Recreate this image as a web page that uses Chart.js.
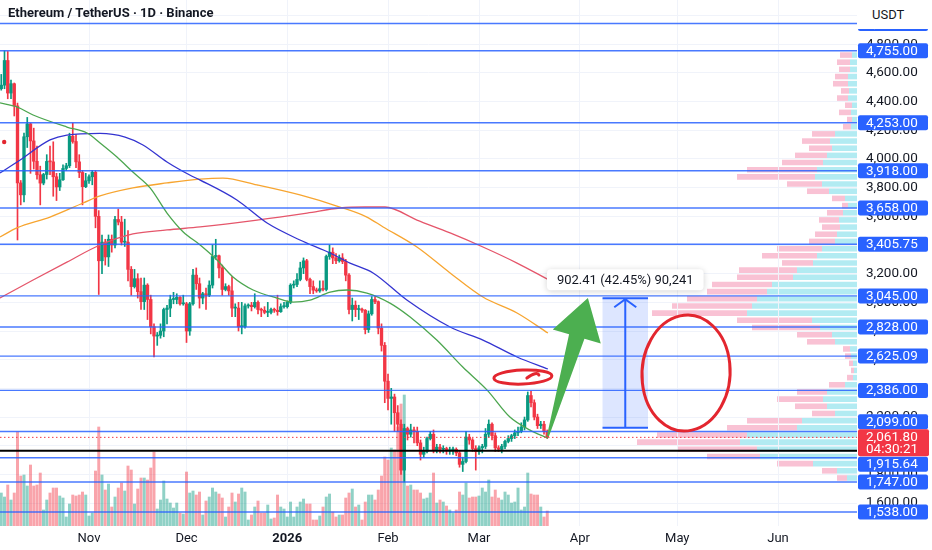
<!DOCTYPE html>
<html>
<head>
<meta charset="utf-8">
<script src="https://cdn.jsdelivr.net/npm/chart.js@4.4.1/dist/chart.umd.min.js"></script>
<style>
  html, body { margin: 0; padding: 0; background: #ffffff; }
  #wrap { position: relative; width: 932px; height: 550px; overflow: hidden; }
  #profileBox { position: absolute; z-index: 0; }
  #main { position: absolute; left: 0; top: 0; z-index: 1; }
  #title { position: absolute; left: 8px; top: 5px; z-index: 2; font: bold 13px Roboto, sans-serif; color: #131722; }
  #unit { position: absolute; left: 858px; top: 0; width: 74px; height: 29px; z-index: 2; background: #fff;
          font: 13px Roboto, sans-serif; color: #131722; line-height: 30px; padding-left: 14px; box-sizing: border-box; }
</style>
</head>
<body>
<div id="wrap">
  <div id="profileBox"><canvas id="profile"></canvas></div>
  <canvas id="main" width="932" height="550"></canvas>
  <div id="title">Ethereum / TetherUS · 1D · Binance</div>
  <div id="unit">USDT</div>
</div>
<script>
// ---------- data (daily candles, ETH/USDT) ----------
const firstCandle = '2025-10-05';

const opens = [
  4490,4515,4687,4460,4525,4370,3833,3750,4155,4245,4126,3984,3890,3832,3892,3983,3980,3876,3805,3855,3934,3953,4158,4122,3980,3906,3807,
  3848,3876,3907,3600,3290,3420,3317,3440,3400,3578,3560,3420,3420,3230,3110,3165,3075,3005,3120,3020,2830,2765,2770,2800,2950,2960,3020,3020,3035,2990,
  2990,2800,2990,3190,3130,3030,3060,3050,3120,3320,3325,3240,3090,3110,3080,2960,2960,2830,2830,2975,2980,2970,3000,2950,2945,2930,2930,2950,2945,2935,2970,
  2970,3000,3120,3125,3160,3240,3290,3160,3110,3085,3080,3095,3090,3320,3350,3310,3290,3310,3285,3190,2950,2980,2950,2950,2945,2810,2920,3020,3005,2820,2700,
  2450,2330,2340,2230,2150,1830,2120,2080,2110,2100,2020,1940,1960,2050,2080,1970,1990,1975,1980,1965,1970,1975,1950,1870,1890,2060,2040,1980,
  1960,1985,1995,2080,2150,2070,1985,1975,1995,2030,2050,2070,2090,2100,2130,2180,2350,2300,2200,2140,2150,2100
];
const highs = [
  4590,4755,4750,4550,4530,4390,3850,4180,4290,4250,4215,4090,3950,3900,4030,4090,4120,3900,3900,3960,3970,4180,4250,4170,4030,3920,3900,
  3890,3920,3920,3640,3470,3440,3470,3470,3600,3650,3600,3580,3500,3250,3230,3200,3170,3170,3130,3050,2850,2790,2850,2960,2980,3050,3070,3060,3040,3050,
  3000,3000,3230,3240,3170,3070,3100,3150,3400,3440,3330,3260,3130,3120,3180,2990,3000,3000,2990,2990,3000,3060,3010,2960,2970,3000,2960,2960,3050,2990,3000,
  3010,3130,3150,3200,3280,3310,3300,3170,3150,3100,3150,3150,3330,3400,3380,3340,3330,3340,3300,3200,3030,3010,2980,2960,2950,2940,3040,3040,3010,2850,2720,
  2500,2400,2360,2280,2180,2150,2130,2150,2130,2130,2040,1990,2060,2100,2110,2010,2010,2000,1990,1990,1990,1985,1960,1920,2100,2080,2050,2000,
  2000,2010,2120,2180,2160,2090,2000,2010,2040,2070,2080,2110,2130,2160,2200,2375,2380,2320,2220,2170,2170,2110
];
const lows = [
  4480,4490,4420,4420,4300,3435,3680,3700,4080,3900,3930,3860,3680,3820,3860,3890,3740,3710,3780,3850,3920,3940,4110,3940,3870,3680,3800,
  3830,3820,3520,3055,3200,3260,3250,3350,3380,3540,3400,3390,3150,3050,3100,3030,2950,2950,2880,2780,2620,2700,2750,2760,2850,2900,2990,2990,2980,2980,
  2720,2770,2980,3090,2960,2990,2950,3040,3100,3300,3170,3050,3080,3050,2900,2900,2800,2780,2820,2960,2940,2960,2920,2900,2920,2900,2920,2930,2910,2930,2960,
  2960,2990,3100,3110,3150,3200,3150,3060,3060,3070,3070,3080,3080,3300,3270,3270,3280,3270,3150,2920,2870,2900,2880,2930,2780,2790,2910,2990,2780,2660,2300,
  2250,2150,2100,2100,1800,1747,2040,2060,2020,2000,1900,1920,1950,2040,1950,1950,1950,1950,1940,1940,1940,1930,1850,1820,1880,2010,1960,1830,
  1940,1950,1980,2060,2040,1960,1960,1950,1980,2020,2030,2050,2070,2090,2110,2170,2270,2180,2120,2120,2080,2050
];
const closes = [
  4515,4687,4460,4525,4370,3833,3750,4155,4245,4126,3984,3890,3832,3892,3983,3980,3876,3805,3855,3934,3953,4158,4122,3980,3906,3807,3848,
  3876,3907,3600,3290,3420,3317,3440,3400,3578,3560,3420,3420,3230,3110,3165,3075,3005,3120,3020,2830,2765,2770,2800,2950,2960,3020,3020,3035,2990,2990,
  2800,2990,3190,3130,3030,3060,3050,3120,3320,3325,3240,3090,3110,3080,2960,2960,2830,2830,2975,2980,2970,3000,2950,2945,2930,2930,2950,2945,2935,2970,2970,
  3000,3120,3125,3160,3240,3290,3160,3110,3085,3080,3095,3090,3320,3350,3310,3290,3310,3285,3190,2950,2980,2950,2950,2945,2810,2920,3020,3005,2820,2700,2450,
  2330,2340,2230,2150,1830,2120,2080,2110,2100,2020,1940,1960,2050,2080,1970,1990,1975,1980,1965,1970,1975,1950,1870,1890,2060,2040,1980,1960,
  1985,1995,2080,2150,2070,1985,1975,1995,2030,2050,2070,2090,2100,2130,2180,2350,2300,2200,2140,2150,2100,2061.8
];
// volume, in 10K ETH
const volumes = [
  33,29,41,26,33,94,50,51,40,61,40,41,53,16,26,33,38,38,30,28,9,22,31,30,31,34,31,
  10,13,55,99,51,36,42,19,29,38,43,35,60,56,22,37,48,48,46,58,74,17,26,45,27,23,18,23,13,12,
  54,33,35,31,34,11,25,29,38,34,32,28,9,19,33,24,32,38,34,6,11,19,25,13,13,21,7,8,31,19,17,
  9,24,9,19,24,27,22,22,6,6,10,19,29,32,14,9,11,11,28,33,37,19,21,6,24,31,31,26,36,50,69,
  66,78,76,99,122,131,40,41,36,36,33,27,28,33,53,23,26,24,20,16,13,16,34,31,43,28,29,29,
  30,38,34,46,29,36,28,26,34,31,23,24,38,16,19,53,32,31,31,19,9,15
];

// moving averages (day index from 2025-10-01, price)
const maGreenDays  = [3.6,8.8,13.8,24.2,30.4,34.4,39.6,44.5,49.8,55,60,65.2,70.4,75.3,81.5,88.8,93.8,99,105.2,110.4,116.5,123.6,129.8,138,146,153.5,160.5,166.7,172.2];
const maGreen      = [4391,4363,4307,4223,4181,4112,4014,3909,3798,3623,3491,3400,3295,3177,3086,3030,3002,3016,3072,3086,3065,2995,2898,2737,2549,2388,2200,2109,2053];
const maBlueDays   = [3.6,9.8,19,24.2,34.4,42.1,47.6,55,62,65.2,76.5,85.8,95.9,105.2,111.3,118.4,128.8,142.1,152.2,162.7,172.2];
const maBlue       = [3902,3993,4133,4167,4178,4153,4098,3979,3888,3853,3714,3553,3435,3344,3274,3205,3016,2828,2737,2619,2535];
const maOrangeDays = [3.6,8.8,19,29.2,34.4,44.5,55,65.2,72.2,82.7,95.9,108.2,116.5,121.5,131.9,142.1,152.2,162.7,172.2];
const maOrange     = [3456,3519,3595,3693,3742,3798,3833,3860,3867,3819,3749,3665,3595,3526,3386,3205,3037,2926,2786];
const maRedDays    = [3.6,13.8,24.2,34.4,44.5,55,65.2,82.7,98.1,108.2,115.9,122.1,131.9,142.1,152.2,162.7,172.2];
const maRed        = [3030,3156,3281,3400,3477,3505,3526,3574,3623,3658,3665,3665,3574,3484,3386,3274,3160];

// visible range and axis labels
const axisOrigin = '2025-10-01';
const viewDays = [3.615, 267.3];
const viewPrices = [1440, 5109];
const monthStarts = ['2025-11-01','2025-12-01','2026-01-01','2026-02-01','2026-03-01','2026-04-01','2026-05-01','2026-06-01'];
const monthLabels = ['Nov','Dec','2026','Feb','Mar','Apr','May','Jun'];
const priceStep = 200;

// drawn horizontal levels
const levels = [4945, 4755, 4253, 3918, 3658, 3405.75, 3045, 2828, 2625.09, 2386, 2099, 1915.64, 1747, 1538];
const blackLevel = 1965;
const lastPrice = 2061.80;
const countdown = '04:30:21';
const pivotDot = [4.9, 4119];

// visible range volume profile (bins of 50)
const vpPrices = [1775,1825,1875,1925,1975,2025,2075,2125,2175,2225,2275,2325,2375,2425,2475,2525,2575,2625,2675,2725,
                  2775,2825,2875,2925,2975,3025,3075,3125,3175,3225,3275,3325,3375,3425,3475,3525,3575,3625,3675,3725,
                  3775,3825,3875,3925,3975,4025,4075,4125,4175,4225,4275,4325,4375,4425,4475,4525,4575,4625,4675,4725];
const vpUp   = [10,20,44,97,100,117,110,60,55,22,30,34,30,12,4,3,4,6,7,22,
                25,37,45,110,105,100,90,85,64,60,44,40,35,22,20,17,18,14,9,12,
                28,35,42,40,34,30,25,27,22,6,5,6,5,9,8,9,9,7,7,5];
const vpDown = [10,15,36,53,80,103,90,70,55,23,32,46,30,16,6,3,4,6,7,28,
                35,68,75,95,80,70,60,60,56,58,31,55,45,26,22,18,20,16,6,13,
                22,35,78,70,41,32,23,28,23,8,5,12,7,11,8,15,13,11,13,12];

// drawings
const measureDays = [189, 203];
const measurePrices = [2125.80, 3028.21];
const arrowFrom = [172.2, 2067];
const arrowTo = [184.5, 3030];
const smallRing = [164.5, 2479];
const bigRing = [214.7, 2507];

// ---------- helpers ----------
const DAY = 86400000;
const t0 = Date.parse(axisOrigin + 'T00:00:00Z');
const dayOf = s => (Date.parse(s + 'T00:00:00Z') - t0) / DAY;
const firstDay = dayOf(firstCandle);
const candleDay = i => firstDay + i;
const monthDays = monthStarts.map(dayOf);
const fmt = v => Number(v).toLocaleString('en-US', { minimumFractionDigits: 2, maximumFractionDigits: 2 });

const UP = '#089981', DOWN = '#f23645';
const isUp = i => closes[i] >= opens[i];
const LEVEL_BLUE = '#2962ff';
const FONT = 'Roboto, sans-serif';

Chart.defaults.font.family = FONT;

function roundRect(ctx, x, y, w, h, r) {
  ctx.beginPath();
  ctx.moveTo(x + r, y);
  ctx.arcTo(x + w, y, x + w, y + h, r);
  ctx.arcTo(x + w, y + h, x, y + h, r);
  ctx.arcTo(x, y + h, x, y, r);
  ctx.arcTo(x, y, x + w, y, r);
  ctx.closePath();
}

// lines, drawings and price labels on top of the series
const drawingsPlugin = {
  id: 'drawings',
  afterDatasetsDraw(chart) {
    const { ctx, chartArea: a, scales: { x, y } } = chart;
    ctx.save();
    ctx.beginPath();
    ctx.rect(a.left, a.top, a.right - a.left, a.bottom - a.top);
    ctx.clip();

    // horizontal levels
    ctx.strokeStyle = 'rgba(41,98,255,0.85)';
    ctx.lineWidth = 1.4;
    levels.forEach(p => {
      const py = y.getPixelForValue(p);
      ctx.beginPath(); ctx.moveTo(a.left, py); ctx.lineTo(a.right, py); ctx.stroke();
    });
    let py = y.getPixelForValue(blackLevel);
    ctx.strokeStyle = '#000'; ctx.lineWidth = 2;
    ctx.beginPath(); ctx.moveTo(a.left, py); ctx.lineTo(a.right, py); ctx.stroke();

    py = y.getPixelForValue(lastPrice);
    ctx.strokeStyle = DOWN; ctx.lineWidth = 1; ctx.setLineDash([1.5, 2.5]);
    ctx.beginPath(); ctx.moveTo(a.left, py + 0.5); ctx.lineTo(a.right, py + 0.5); ctx.stroke();
    ctx.setLineDash([]);

    // price range measure
    const mx0 = x.getPixelForValue(measureDays[0]), mx1 = x.getPixelForValue(measureDays[1]);
    const my0 = y.getPixelForValue(measurePrices[0]), my1 = y.getPixelForValue(measurePrices[1]);
    const cx = (mx0 + mx1) / 2;
    ctx.fillStyle = 'rgba(41,98,255,0.16)';
    ctx.fillRect(mx0, my1, mx1 - mx0, my0 - my1);
    ctx.strokeStyle = LEVEL_BLUE; ctx.lineWidth = 2;
    ctx.beginPath();
    ctx.moveTo(mx0, my1); ctx.lineTo(mx1, my1);
    ctx.moveTo(mx0, my0); ctx.lineTo(mx1, my0);
    ctx.moveTo(cx, my0); ctx.lineTo(cx, my1 + 1);
    ctx.moveTo(cx - 11, my1 + 9); ctx.lineTo(cx, my1 + 1); ctx.lineTo(cx + 11, my1 + 9);
    ctx.stroke();

    // green arrow
    const sx = x.getPixelForValue(arrowFrom[0]), sy = y.getPixelForValue(arrowFrom[1]);
    const tx = x.getPixelForValue(arrowTo[0]), ty = y.getPixelForValue(arrowTo[1]);
    const len = Math.hypot(tx - sx, ty - sy);
    const ux = (tx - sx) / len, uy = (ty - sy) / len, nx = -uy, ny = ux;
    const hx = tx - ux * 40, hy = ty - uy * 40;
    ctx.fillStyle = '#4caf50';
    ctx.beginPath();
    ctx.moveTo(sx - nx * 1, sy - ny * 1);
    ctx.lineTo(hx - nx * 8, hy - ny * 8);
    ctx.lineTo(hx - nx * 25, hy - ny * 25);
    ctx.lineTo(tx, ty);
    ctx.lineTo(hx + nx * 25, hy + ny * 25);
    ctx.lineTo(hx + nx * 8, hy + ny * 8);
    ctx.lineTo(sx + nx * 1, sy + ny * 1);
    ctx.closePath();
    ctx.fill();

    // red hand-drawn rings
    ctx.strokeStyle = '#e3262f'; ctx.lineWidth = 3; ctx.lineCap = 'round';
    let rx = x.getPixelForValue(smallRing[0]), ry = y.getPixelForValue(smallRing[1]);
    ctx.beginPath(); ctx.ellipse(rx, ry, 29, 7, -0.04, 0, Math.PI * 2); ctx.stroke();
    ctx.beginPath(); ctx.moveTo(rx + 4, ry + 1); ctx.quadraticCurveTo(rx + 14, ry - 6, rx + 16, ry - 2); ctx.stroke();
    rx = x.getPixelForValue(bigRing[0]); ry = y.getPixelForValue(bigRing[1]);
    ctx.beginPath(); ctx.ellipse(rx, ry, 44, 58, 0.06, -1.0, Math.PI * 2 - 0.85); ctx.stroke();
    ctx.restore();

    // measure label
    const label = `${fmt(measurePrices[1] - measurePrices[0])} (${((measurePrices[1] - measurePrices[0]) / measurePrices[0] * 100).toFixed(2)}%) ${Math.round((measurePrices[1] - measurePrices[0]) * 100).toLocaleString('en-US')}`;
    ctx.save();
    ctx.font = '13px ' + FONT;
    const w = ctx.measureText(label).width + 20;
    ctx.shadowColor = 'rgba(0,0,0,0.18)'; ctx.shadowBlur = 6; ctx.shadowOffsetY = 1;
    ctx.fillStyle = '#fff';
    roundRect(ctx, cx - w / 2, my1 - 29, w, 21, 4); ctx.fill();
    ctx.shadowColor = 'transparent';
    ctx.fillStyle = '#131722'; ctx.textAlign = 'center'; ctx.textBaseline = 'middle';
    ctx.fillText(label, cx, my1 - 18);
    ctx.restore();
  },
  afterDraw(chart) {
    const { ctx, chartArea: a, scales: { y } } = chart;
    const bx = a.right + 1, bw = 70, bh = 15;
    const lastY = y.getPixelForValue(lastPrice);
    const redTop = lastY - 7.5, redBot = lastY + 19.5;
    ctx.save();
    ctx.font = '13.5px ' + FONT;
    ctx.textBaseline = 'middle';
    levels.forEach(p => {
      let cy = y.getPixelForValue(p);
      if (cy + bh / 2 > redTop && cy - bh / 2 < redBot) {
        cy = cy < lastY ? redTop - bh / 2 : redBot + bh / 2 + 0.5;
      }
      ctx.fillStyle = LEVEL_BLUE;
      roundRect(ctx, bx, cy - bh / 2, bw, bh, 2); ctx.fill();
      ctx.fillStyle = '#fff';
      ctx.fillText(fmt(p), bx + 8, cy + 0.5);
    });
    ctx.fillStyle = DOWN;
    roundRect(ctx, bx, redTop, bw + 1, redBot - redTop, 2); ctx.fill();
    ctx.fillStyle = '#fff';
    ctx.fillText(fmt(lastPrice), bx + 8, lastY + 0.5);
    ctx.fillText(countdown, bx + 8, lastY + 13);
    ctx.restore();
  }
};

const main = new Chart(document.getElementById('main'), {
  type: 'bar',
  data: {
    datasets: [
      {
        label: 'Volume', yAxisID: 'yVol', order: 6, grouped: false, barThickness: 2.3,
        data: volumes.map((v, i) => ({ x: candleDay(i), y: v })),
        backgroundColor: c => isUp(c.dataIndex) ? 'rgba(8,153,129,0.45)' : 'rgba(242,54,69,0.45)'
      },
      {
        label: 'Wick', order: 5, grouped: false, barThickness: 1,
        data: highs.map((h, i) => ({ x: candleDay(i), y: [lows[i], h] })),
        backgroundColor: c => isUp(c.dataIndex) ? UP : DOWN
      },
      {
        label: 'Body', order: 4, grouped: false, barThickness: 2.7, minBarLength: 1,
        data: opens.map((o, i) => ({ x: candleDay(i), y: [o, closes[i]] })),
        backgroundColor: c => isUp(c.dataIndex) ? UP : DOWN
      },
      { type: 'line', label: 'MA red', order: 3, data: maRedDays.map((d, i) => ({ x: d, y: maRed[i] })), borderColor: '#e5566b' },
      { type: 'line', label: 'MA orange', order: 3, data: maOrangeDays.map((d, i) => ({ x: d, y: maOrange[i] })), borderColor: '#f7a530' },
      { type: 'line', label: 'MA blue', order: 2, data: maBlueDays.map((d, i) => ({ x: d, y: maBlue[i] })), borderColor: '#3434d0' },
      { type: 'line', label: 'MA green', order: 1, data: maGreenDays.map((d, i) => ({ x: d, y: maGreen[i] })), borderColor: '#4ca64f' },
      { type: 'scatter', label: 'Pivot', order: 0, data: [{ x: pivotDot[0], y: pivotDot[1] }], backgroundColor: '#e3262f', pointRadius: 2.2, borderWidth: 0 }
    ]
  },
  options: {
    responsive: false,
    animation: false,
    events: [],
    layout: { padding: 0, autoPadding: false },
    elements: {
      bar: { borderWidth: 0 },
      line: { borderWidth: 1.3, cubicInterpolationMode: 'monotone', fill: false },
      point: { radius: 0 }
    },
    plugins: { legend: { display: false }, tooltip: { enabled: false } },
    scales: {
      x: {
        type: 'linear', min: viewDays[0], max: viewDays[1], offset: false,
        grid: { color: '#f0f3fa', drawTicks: false, offset: false },
        border: { display: false },
        afterBuildTicks: axis => { axis.ticks = monthDays.map(v => ({ value: v })); },
        afterFit: s => { s.height = 24; s.paddingLeft = 0; s.paddingRight = 0; },
        ticks: {
          autoSkip: false, maxRotation: 0, padding: 5, color: '#131722',
          font: c => ({ family: FONT, size: 13, weight: (c.tick && c.tick.value === monthDays[2]) ? 'bold' : 'normal' }),
          callback: v => monthLabels[monthDays.indexOf(v)]
        }
      },
      y: {
        type: 'linear', position: 'right', min: viewPrices[0], max: viewPrices[1],
        grid: { color: '#f0f3fa', drawTicks: false },
        border: { display: false },
        afterFit: s => { s.width = 75; s.paddingTop = 0; s.paddingBottom = 0; },
        ticks: { stepSize: priceStep, includeBounds: false, padding: 9, color: '#131722', font: { size: 13.5 }, callback: v => fmt(v) }
      },
      yVol: { type: 'linear', display: false, min: 0, max: 526 }
    }
  },
  plugins: [drawingsPlugin]
});

// volume profile sits under the main canvas, aligned to its plot area
const area = main.chartArea;
const box = document.getElementById('profileBox');
const pc = document.getElementById('profile');
box.style.left = area.left + 'px';
box.style.top = area.top + 'px';
pc.width = Math.round(area.right - area.left);
pc.height = Math.round(area.bottom - area.top);

new Chart(pc, {
  type: 'bar',
  data: {
    datasets: [
      { label: 'Up', data: vpPrices.map((p, i) => ({ x: vpUp[i], y: p })), backgroundColor: 'rgba(0,188,212,0.30)', stack: 'vp' },
      { label: 'Down', data: vpPrices.map((p, i) => ({ x: vpDown[i], y: p })), backgroundColor: 'rgba(236,64,122,0.32)', stack: 'vp' }
    ]
  },
  options: {
    indexAxis: 'y',
    responsive: false,
    animation: false,
    events: [],
    layout: { padding: 0, autoPadding: false },
    barPercentage: 0.78,
    categoryPercentage: 1,
    plugins: { legend: { display: false }, tooltip: { enabled: false } },
    scales: {
      x: { type: 'linear', reverse: true, min: 0, max: pc.width, stacked: true, display: false },
      y: { type: 'linear', min: viewPrices[0], max: viewPrices[1], stacked: true, display: false, offset: false }
    }
  }
});
</script>
</body>
</html>
